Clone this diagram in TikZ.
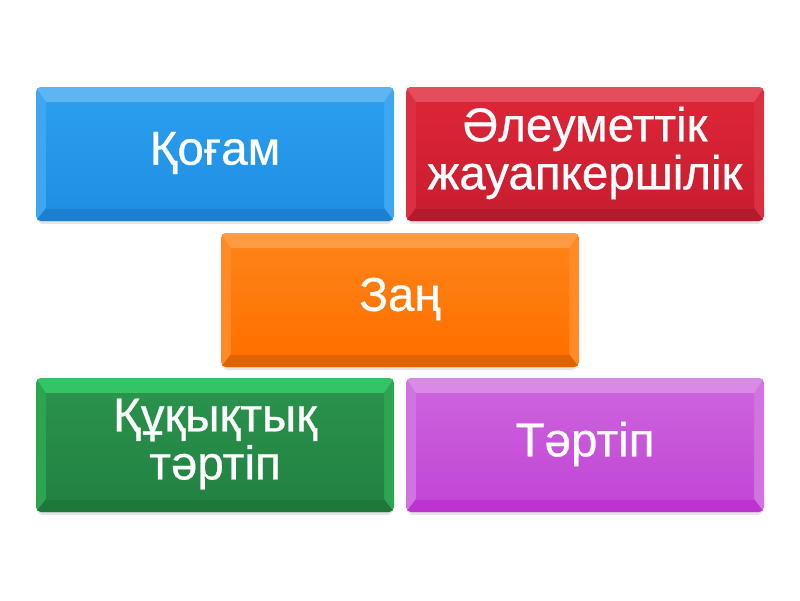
\documentclass[tikz,border=0pt]{standalone}
\usepackage{fontspec}
\setmainfont{Liberation Sans}
\newfontfamily\boxfont{Liberation Sans}[FakeBold=0.6]
\usetikzlibrary{calc}
\tikzset{
  boxframe/.style={rounded corners=5pt, minimum width=358pt, minimum height=134pt, inner sep=0pt, outer sep=0pt},
  boxtext/.style={text=white, font=\boxfont\fontsize{47.5}{48}\selectfont, align=center, inner sep=0pt},
  boxshadow/.style={fill=black, opacity=0.10, rounded corners=6pt}
}
% #1 name, #2 x, #3 y, #4 side colour, #5 top band, #6 face top, #7 face bottom, #8 bottom band, #9 text
\newcommand\bevelbox[9]{%
  \fill[boxshadow] (#2-178,#3-64) rectangle (#2+178,#3+70);
  \node[boxframe, fill=#4] (#1) at (#2,#3) {};
  \begin{scope}
    \clip[rounded corners=5pt] (#1.north west) rectangle (#1.south east);
    \fill[#5] (#1.north west) -- (#1.north east) -- ($(#1.north east)+(-10,15)$) -- ($(#1.north west)+(10,15)$) -- cycle;
    \fill[#8] (#1.south west) -- (#1.south east) -- ($(#1.south east)+(-10,-13)$) -- ($(#1.south west)+(10,-13)$) -- cycle;
    \shade[top color=#6, bottom color=#7] ($(#1.north west)+(10,15)$) rectangle ($(#1.south east)+(-10,-13)$);
  \end{scope}
  \node[boxtext] (#1text) at ($(#1.center)+(0,-1)$) {#9};
}
\definecolor{bSide}{HTML}{3FA6F1}\definecolor{bTop}{HTML}{5DB5F2}\definecolor{bFaceT}{HTML}{2C9EEE}\definecolor{bFaceB}{HTML}{1E8FE3}\definecolor{bBot}{HTML}{1A80CF}
\definecolor{rSide}{HTML}{DB3042}\definecolor{rTop}{HTML}{E54D5D}\definecolor{rFaceT}{HTML}{DC2537}\definecolor{rFaceB}{HTML}{C91E30}\definecolor{rBot}{HTML}{B21B2C}
\definecolor{oSide}{HTML}{FF8A26}\definecolor{oTop}{HTML}{FF9B45}\definecolor{oFaceT}{HTML}{FF8216}\definecolor{oFaceB}{HTML}{FF7000}\definecolor{oBot}{HTML}{E06400}
\definecolor{gSide}{HTML}{2CA553}\definecolor{gTop}{HTML}{34C466}\definecolor{gFaceT}{HTML}{29924C}\definecolor{gFaceB}{HTML}{238242}\definecolor{gBot}{HTML}{1F773C}
\definecolor{pSide}{HTML}{D174E1}\definecolor{pTop}{HTML}{D98AE6}\definecolor{pFaceT}{HTML}{CC62DD}\definecolor{pFaceB}{HTML}{C247D6}\definecolor{pBot}{HTML}{BC33CF}
\begin{document}
\begin{tikzpicture}[x=1pt,y=-1pt]
\useasboundingbox[fill=white] (0,0) rectangle (800,600);
\bevelbox{qogam}{215}{154}{bSide}{bTop}{bFaceT}{bFaceB}{bBot}{Қоғам}
\bevelbox{jauap}{585}{154}{rSide}{rTop}{rFaceT}{rFaceB}{rBot}{Әлеуметтік\\жауапкершілік}
\bevelbox{zan}{400}{300}{oSide}{oTop}{oFaceT}{oFaceB}{oBot}{Заң}
\bevelbox{quqyq}{215}{445}{gSide}{gTop}{gFaceT}{gFaceB}{gBot}{Құқықтық\\тәртіп}
\bevelbox{tartip}{585}{445}{pSide}{pTop}{pFaceT}{pFaceB}{pBot}{Тәртіп}
\end{tikzpicture}
\end{document}
